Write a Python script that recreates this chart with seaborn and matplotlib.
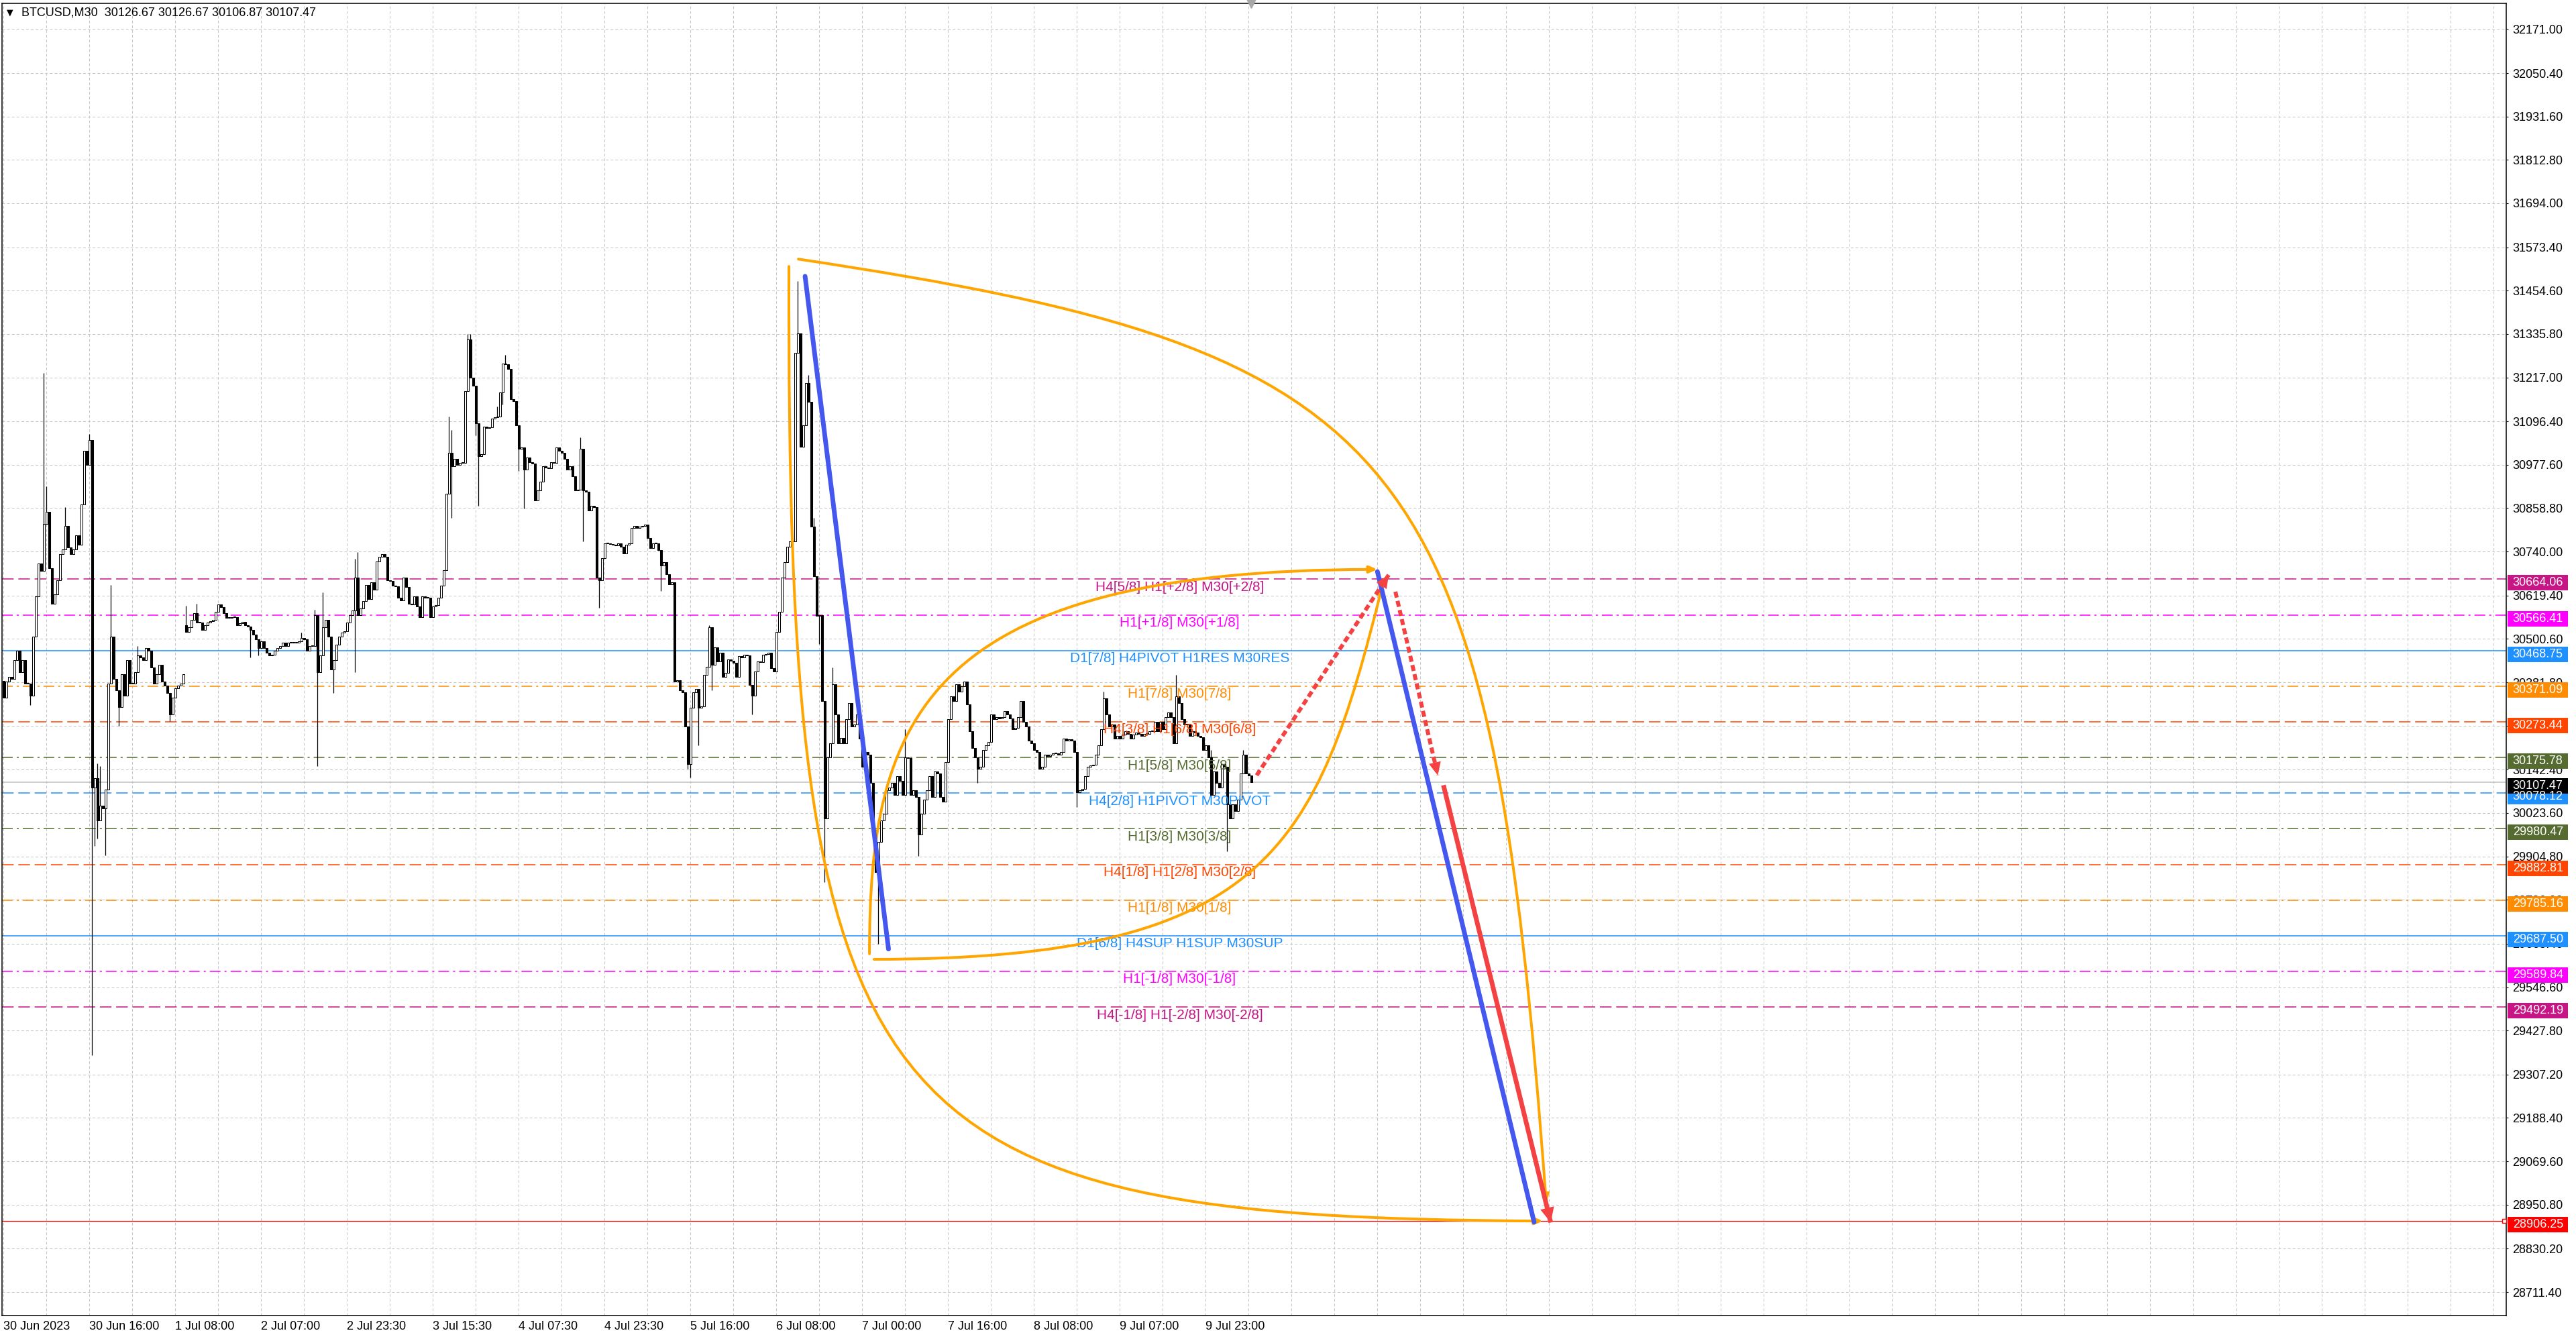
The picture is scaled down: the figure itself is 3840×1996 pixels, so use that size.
import numpy as np
import pandas as pd
import seaborn as sns
import matplotlib
matplotlib.use("Agg")
import matplotlib.pyplot as plt
import matplotlib.transforms as mtransforms
from matplotlib import font_manager
from matplotlib.path import Path
from matplotlib.patches import FancyArrowPatch, Rectangle, ArrowStyle

# ===== candles (M30 closes) =====
close = [
    30339, 30384, 30397, 30391, 30442, 30468, 30410, 30442, 30378, 30378,
    30346, 30507, 30617, 30707, 30687, 30816, 30849, 30694, 30597, 30623,
    30662, 30733, 30745, 30810, 30752, 30733, 30745, 30784, 30758, 30868,
    31016, 30977, 31046, 30094, 30120, 30004, 30043, 30036, 30088, 30378,
    30507, 30391, 30359, 30314, 30404, 30346, 30442, 30378, 30378, 30410,
    30455, 30449, 30442, 30475, 30468, 30423, 30378, 30404, 30430, 30384,
    30372, 30352, 30294, 30339, 30365, 30372, 30378, 30404, 30520, 30533,
    30552, 30571, 30546, 30546, 30526, 30539, 30546, 30549, 30552, 30574,
    30595, 30587, 30571, 30558, 30558, 30561, 30561, 30539, 30543, 30548,
    30539, 30535, 30526, 30513, 30500, 30475, 30494, 30475, 30462, 30455,
    30458, 30468, 30475, 30481, 30491, 30481, 30491, 30490, 30490, 30491,
    30494, 30503, 30499, 30468, 30481, 30481, 30565, 30410, 30455, 30533,
    30552, 30507, 30417, 30442, 30484, 30507, 30517, 30522, 30546, 30565,
    30578, 30668, 30565, 30584, 30604, 30649, 30610, 30655, 30636, 30713,
    30726, 30733, 30726, 30662, 30659, 30646, 30645, 30613, 30607, 30668,
    30642, 30597, 30595, 30617, 30590, 30560, 30618, 30613, 30613, 30561,
    30589, 30594, 30613, 30646, 30688, 30899, 31011, 30974, 30993, 30978,
    30983, 30983, 31180, 31321, 31217, 31194, 31091, 31002, 31007, 31082,
    31079, 31081, 31105, 31107, 31110, 31175, 31255, 31253, 31241, 31157,
    31152, 31086, 31021, 31025, 30964, 30997, 30985, 30981, 30880, 30908,
    30932, 30974, 30970, 30969, 30985, 30983, 31025, 31016, 31011, 30993,
    30964, 30974, 30946, 30908, 30910, 31021, 30908, 30903, 30852, 30866,
    30861, 30669, 30662, 30721, 30763, 30763, 30761, 30758, 30756, 30763,
    30753, 30735, 30758, 30763, 30805, 30810, 30805, 30808, 30810, 30814,
    30777, 30749, 30763, 30763, 30744, 30702, 30711, 30678, 30650, 30655,
    30383, 30388, 30360, 30355, 30261, 30158, 30313, 30355, 30364, 30313,
    30316, 30402, 30425, 30533, 30430, 30477, 30439, 30463, 30397, 30407,
    30444, 30441, 30435, 30397, 30453, 30449, 30458, 30456, 30374, 30346,
    30411, 30439, 30437, 30458, 30460, 30463, 30421, 30411, 30519, 30575,
    30669, 30711, 30753, 30767, 30767, 31285, 31337, 31027, 31085, 31202,
    31150, 30808, 30673, 30563, 30566, 30331, 30009, 30177, 30215, 30376,
    30293, 30215, 30230, 30215, 30280, 30325, 30260, 30267, 30293, 30228,
    30151, 30190, 30183, 30106, 29977, 29861, 29945, 30003, 30022, 30086,
    30093, 30106, 30074, 30125, 30112, 30074, 30177, 30174, 30074, 30086,
    30067, 29964, 30022, 30061, 30086, 30125, 30067, 30138, 30132, 30067,
    30054, 30164, 30280, 30344, 30331, 30376, 30357, 30370, 30383, 30321,
    30248, 30202, 30177, 30144, 30151, 30196, 30209, 30218, 30293, 30280,
    30286, 30282, 30286, 30303, 30293, 30282, 30254, 30257, 30286, 30331,
    30273, 30260, 30222, 30215, 30196, 30190, 30144, 30151, 30183, 30179,
    30183, 30187, 30187, 30183, 30190, 30228, 30222, 30226, 30222, 30190,
    30080, 30086, 30089, 30125, 30151, 30154, 30155, 30183, 30209, 30254,
    30338, 30293, 30260, 30267, 30228, 30235, 30228, 30239, 30248, 30241,
    30228, 30239, 30244, 30241, 30235, 30241, 30241, 30248, 30248, 30273,
    30248, 30273, 30254, 30286, 30299, 30286, 30215, 30344, 30325, 30280,
    30267, 30267, 30235, 30248, 30244, 30235, 30231, 30196, 30209, 30177,
    30074, 30138, 30106, 30093, 30157, 30151, 30048, 30009, 30048, 30029,
    30061, 30132, 30183, 30132, 30126.67, 30107.47,
]
first_open = 30385
open_gap = {68: 30539}
wick_high = {15: 31229, 16: 30919, 23: 30861, 32: 31061, 35: 30159, 36: 30152,
             40: 30649, 50: 30481, 68: 30591, 72: 30597, 111: 30517, 116: 30580,
             119: 30629, 131: 30720, 132: 30739, 166: 31110, 167: 31072,
             173: 31335, 174: 31335, 184: 31138, 187: 31278, 215: 31053,
             263: 30538, 296: 31480, 300: 31223, 302: 30833, 309: 30422,
             336: 30254, 410: 30357, 437: 30402, 450: 30196, 462: 30196}
wick_low = {10: 30320, 33: 29360, 34: 29933, 35: 29953, 38: 29907, 43: 30262,
            62: 30275, 92: 30449, 95: 30455, 117: 30152, 123: 30352, 131: 30410,
            167: 30833, 176: 31058, 177: 30866, 186: 31143, 192: 30960,
            194: 30857, 216: 30768, 222: 30585, 245: 30632, 255: 30144,
            256: 30121, 259: 30210, 264: 30360, 279: 30294, 304: 30486,
            306: 29835, 326: 29665, 341: 29906, 363: 30106, 400: 30041,
            456: 29919}

# ===== axes =====
ytick_vals = [32171.00, 32050.40, 31931.60, 31812.80, 31694.00, 31573.40,
              31454.60, 31335.80, 31217.00, 31096.40, 30977.60, 30858.80,
              30740.00, 30619.40, 30500.60, 30381.80, 30263.00, 30142.40,
              30023.60, 29904.80, 29786.00, 29665.40, 29546.60, 29427.80,
              29307.20, 29188.40, 29069.60, 28950.80, 28830.20, 28711.40]
time_labels = ["30 Jun 2023", "30 Jun 16:00", "1 Jul 08:00", "2 Jul 07:00",
               "2 Jul 23:30", "3 Jul 15:30", "4 Jul 07:30", "4 Jul 23:30",
               "5 Jul 16:00", "6 Jul 08:00", "7 Jul 00:00", "7 Jul 16:00",
               "8 Jul 08:00", "9 Jul 07:00", "9 Jul 23:00"]
bars_per_label = 32

# ===== murrey levels =====
levels = [30664.06, 30566.41, 30468.75, 30371.09, 30273.44, 30175.78, 30078.12,
          29980.47, 29882.81, 29785.16, 29687.50, 29589.84, 29492.19]
level_text = ["H4[5/8] H1[+2/8] M30[+2/8]", "H1[+1/8] M30[+1/8]",
              "D1[7/8] H4PIVOT H1RES M30RES", "H1[7/8] M30[7/8]",
              "H4[3/8] H1[6/8] M30[6/8]", "H1[5/8] M30[5/8]",
              "H4[2/8] H1PIVOT M30PIVOT", "H1[3/8] M30[3/8]",
              "H4[1/8] H1[2/8] M30[2/8]", "H1[1/8] M30[1/8]",
              "D1[6/8] H4SUP H1SUP M30SUP", "H1[-1/8] M30[-1/8]",
              "H4[-1/8] H1[-2/8] M30[-2/8]"]
level_color = ["#C71585", "#FF00FF", "#1E90FF", "#FF8C00", "#FF4500", "#556B2F",
               "#1E90FF", "#556B2F", "#FF4500", "#FF8C00", "#1E90FF", "#FF00FF",
               "#C71585"]
level_style = ["dash", "dashdot", "solid", "dashdot", "dash", "dashdot", "dash",
               "dashdot", "dash", "dashdot", "solid", "dashdot", "dash"]
bid_price = 30107.47
target_price = 28906.25

# ===== drawn objects (bar index, price) =====
blue_bar = [298.7, 329.8, 512.0, 570.4]
blue_price = [31494, 29651, 30685, 28903]
blue_seg = [0, 0, 1, 1]

red_dotted = [((467.0, 30127), (516.2, 30676)),
              ((518.7, 30630), (534.5, 30127))]
red_solid = ((536.6, 30100), (576.6, 28902))

# cubic bezier anchors of the orange curved arrows
orange_curves = [
    [(296.2, 31541), (526.4, 31287), (554.2, 31028), (574.9, 28956)],
    [(292.7, 31521), (291.8, 29176), (319.9, 28915), (573.7, 28906)],
    [(322.7, 29638), (322.7, 30270), (341.6, 30691), (512.0, 30691)],
    [(324.4, 29623), (471.3, 29623), (489.5, 29931), (513.9, 30648)],
]

# ===== style =====
sns.set_style("white")
plt.rcParams['lines.scale_dashes'] = False
plt.rcParams['font.family'] = ['Liberation Sans', 'DejaVu Sans']
avail = {f.name for f in font_manager.fontManager.ttflist}
if 'Liberation Sans Narrow' in avail:
    AX_FONT, AX_SIZE = 'Liberation Sans Narrow', 16
else:
    AX_FONT, AX_SIZE = 'Liberation Sans', 13

W, H = 3840, 1996
L, R, T, B = 3, 3736, 5, 1961
fig = plt.figure(figsize=(W / 100, H / 100), dpi=100)
ax = fig.add_axes([L / W, (H - B) / H, (R - L) / W, (B - T) / H])
ax.set_xlim(-0.575, 932.675)
ax.set_ylim(28647.2, 32241.6)
px_price = (32241.6 - 28647.2) / (B - T)

# ===== candles =====
n = len(close)
opens = [first_open] + close[:-1]
for k, v in open_gap.items():
    opens[k] = v
df = pd.DataFrame({'bar': np.arange(n), 'open': opens, 'close': close})
df['high'] = df[['open', 'close']].max(axis=1)
df['low'] = df[['open', 'close']].min(axis=1)
for k, v in wick_high.items():
    df.loc[k, 'high'] = max(df.loc[k, 'high'], v)
for k, v in wick_low.items():
    df.loc[k, 'low'] = min(df.loc[k, 'low'], v)
up = df['close'] >= df['open']
ax.vlines(df['bar'], df['low'], df['high'], color='black', lw=0.9, zorder=3)
body = (df['close'] - df['open']).abs().clip(lower=px_price)
ax.bar(df['bar'], body, bottom=df[['open', 'close']].min(axis=1), width=0.72,
       color=np.where(up, 'white', 'black'), edgecolor='black', linewidth=0.75,
       zorder=4)

# ===== level lines + labels =====
line_styles = {'solid': '-', 'dash': (0, (12.5, 5)),
               'dashdot': (0, (11.5, 4.3, 2.2, 4.3))}
label_bar = 438.3
for lv, txt, col, st in zip(levels, level_text, level_color, level_style):
    ax.axhline(lv, color=col, lw=1.1, linestyle=line_styles[st], zorder=2)
    ax.annotate(txt, (label_bar, lv), xytext=(0, -8.6), textcoords='offset points',
                ha='center', va='center', color=col, fontsize=15, zorder=6)
ax.axhline(bid_price, color='#C0C0C0', lw=1.1, zorder=2)
ax.axhline(target_price, color='#FF0000', lw=0.9, zorder=2)

# ===== orange curved arrows =====
for pts in orange_curves:
    path = Path(pts, [Path.MOVETO, Path.CURVE4, Path.CURVE4, Path.CURVE4])
    ax.add_patch(FancyArrowPatch(path=path,
                                 arrowstyle=ArrowStyle('-|>', head_length=7, head_width=3),
                                 color='#FFA500', lw=2.9, zorder=7))

# ===== blue lines =====
blue_df = pd.DataFrame({'bar': blue_bar, 'price': blue_price, 'seg': blue_seg})
sns.lineplot(data=blue_df, x='bar', y='price', units='seg', estimator=None,
             color='#4457EE', lw=5, solid_capstyle='round', ax=ax, zorder=8,
             legend=False)

# ===== red arrows =====
red = '#F44242'
for (x0, y0), (x1, y1) in red_dotted:
    ax.plot([x0, x1], [y0, y1], color=red, lw=4.3, linestyle=(0, (6.5, 3.6)),
            solid_capstyle='butt', dash_capstyle='butt', zorder=9)
    ax.add_patch(FancyArrowPatch((x0, y0), (x1, y1), shrinkA=0, shrinkB=0, lw=0,
                                 arrowstyle=ArrowStyle('-|>', head_length=14, head_width=6.5),
                                 color=red, zorder=9))
(x0, y0), (x1, y1) = red_solid
ax.plot([x0, x1], [y0, y1], color=red, lw=5, solid_capstyle='butt', zorder=9)
ax.add_patch(FancyArrowPatch((x0, y0), (x1, y1), shrinkA=0, shrinkB=0, lw=0,
                             arrowstyle=ArrowStyle('-|>', head_length=16, head_width=7.5),
                             color=red, zorder=9))

# ===== axes, ticks, grid =====
ax.set_xlabel('')
ax.set_ylabel('')
ax.yaxis.tick_right()
ax.set_yticks(ytick_vals)
ax.set_yticklabels([f"{v:.2f}" for v in ytick_vals])
ax.tick_params(axis='y', length=2.2, width=0.8, pad=4.3, labelsize=AX_SIZE,
               labelfontfamily=AX_FONT, colors='black')
major_x = list(range(0, bars_per_label * len(time_labels), bars_per_label))
ax.set_xticks(major_x)
ax.set_xticklabels(time_labels)
ax.set_xticks(np.arange(0, 933, bars_per_label // 2), minor=True)
ax.tick_params(axis='x', which='major', length=3.6, width=0.8, pad=2,
               labelsize=AX_SIZE, labelfontfamily=AX_FONT, colors='black')
ax.tick_params(axis='x', which='minor', length=0)
plt.setp(ax.get_xticklabels(), ha='left')
grid_kw = dict(color='#C8C8C8', lw=0.75, linestyle=(0, (2.9, 2.2)))
ax.grid(True, which='both', axis='x', **grid_kw)
ax.grid(True, which='major', axis='y', **grid_kw)
ax.set_axisbelow(True)
for sp in ax.spines.values():
    sp.set_visible(True)
    sp.set_color('black')
    sp.set_linewidth(1.1)

# ===== price boxes on the right scale =====
trans = mtransforms.blended_transform_factory(ax.transAxes, ax.transData)
axw = R - L
box_items = list(zip(levels, level_color)) + [(bid_price, '#000000'),
                                              (target_price, '#FF0000')]
for price, col in box_items:
    yc = price - 5.5 * px_price
    ax.add_patch(Rectangle((1 + 1.7 / axw, yc - 11.5 * px_price), 90 / axw,
                           23 * px_price, transform=trans, facecolor=col,
                           edgecolor='none', clip_on=False, zorder=10))
    ax.text(1 + 9.7 / axw, yc, f"{price:.2f}", transform=trans, color='white',
            fontsize=AX_SIZE, family=AX_FONT, va='center', ha='left',
            clip_on=False, zorder=11)
ax.plot([1 - 3 / axw], [target_price], transform=trans, marker='s', ms=4,
        mfc='white', mec='#FF0000', mew=1, clip_on=False, zorder=11)

# chart shift marker and header
ax.plot([n - 1], [32241.6], marker='v', ms=10, color='#A8A8A8', clip_on=False,
        zorder=11)
fig.text(10 / W, 1 - 19 / H, '\u25BC', family='DejaVu Sans', fontsize=9,
         va='center', ha='left', color='black')
fig.text(32.5 / W, 1 - 19 / H, "BTCUSD,M30  30126.67 30126.67 30106.87 30107.47",
         family=AX_FONT, fontsize=AX_SIZE, va='center', ha='left', color='black')

fig.savefig('out.png', dpi=100, facecolor='white')
